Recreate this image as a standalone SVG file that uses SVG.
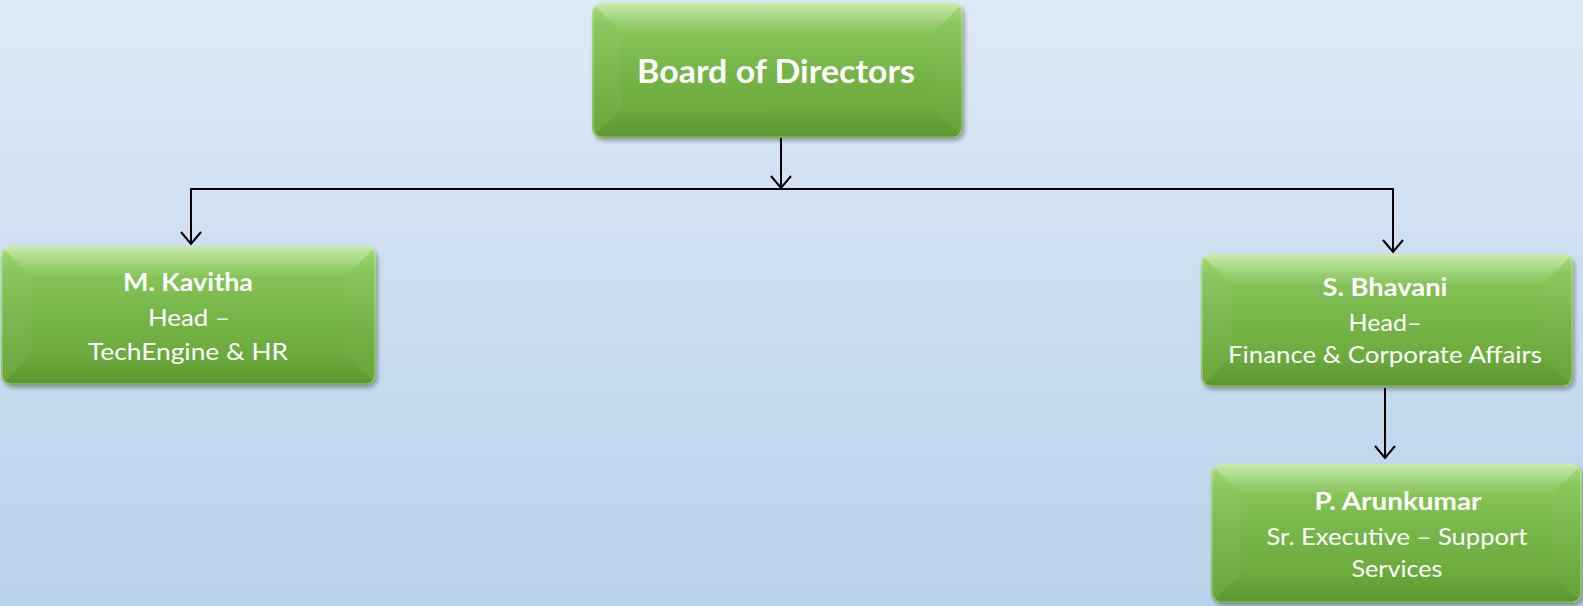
<svg xmlns="http://www.w3.org/2000/svg" width="1583" height="606" viewBox="0 0 1583 606">
<defs>
<linearGradient id="bg" x1="0" y1="0" x2="0" y2="1">
<stop offset="0" stop-color="#dee9f6"/>
<stop offset="1" stop-color="#b9d2eb"/>
</linearGradient>
<linearGradient id="gfill" x1="0" y1="0" x2="0" y2="1">
<stop offset="0" stop-color="#a9de7c"/>
<stop offset="0.15" stop-color="#88c65a"/>
<stop offset="0.5" stop-color="#76b548"/>
<stop offset="1" stop-color="#64a234"/>
</linearGradient>
<linearGradient id="gtop" x1="0" y1="0" x2="0" y2="1">
<stop offset="0" stop-color="#ffffff" stop-opacity="0.35"/>
<stop offset="1" stop-color="#ffffff" stop-opacity="0.04"/>
</linearGradient>
<linearGradient id="gbot" x1="0" y1="0" x2="0" y2="1">
<stop offset="0" stop-color="#000000" stop-opacity="0.0"/>
<stop offset="1" stop-color="#000000" stop-opacity="0.08"/>
</linearGradient>
<filter id="sh" x="-5%" y="-5%" width="112%" height="118%">
<feDropShadow dx="2" dy="3" stdDeviation="2" flood-color="#000" flood-opacity="0.3"/>
</filter>
<marker id="arr" markerUnits="userSpaceOnUse" markerWidth="30" markerHeight="30" viewBox="-15 -15 30 30" refX="0" refY="0" orient="auto" overflow="visible">
<path d="M-12,-10 L0,0 L-12,10" fill="none" stroke="#000" stroke-width="2"/>
</marker>
<clipPath id="c1"><rect x="592" y="3" width="371" height="135" rx="10"/></clipPath>
<clipPath id="c2"><rect x="1" y="246" width="375" height="139" rx="10"/></clipPath>
<clipPath id="c3"><rect x="1201" y="254" width="372" height="133" rx="10"/></clipPath>
<clipPath id="c4"><rect x="1211" y="464" width="371" height="139" rx="10"/></clipPath>
</defs>
<style>
.box{fill:url(#gfill);filter:url(#sh)}
.bt{fill:url(#gtop)}
.bl{fill:#ffffff;opacity:0.04}
.br{fill:#ffffff;opacity:0.02}
.bb{fill:url(#gbot)}
.hl{fill:none;stroke:#d4f7b0;stroke-width:1.2;opacity:0.5}
.t{font-family:Lato,"Open Sans","Liberation Sans",sans-serif;fill:#ffffff;text-anchor:middle}
.b{font-weight:bold}
.s{font-size:24px}
.conn{fill:none;stroke:#000;stroke-width:2}
</style>
<rect x="0" y="0" width="1583" height="606" fill="url(#bg)"/>

<g id="connectors">
<line class="conn" x1="781" y1="138" x2="781" y2="188" marker-end="url(#arr)"/>
<polyline class="conn" points="191,244 191,189 1393,189 1393,252"/>
<line class="conn" x1="191" y1="189" x2="191" y2="244" marker-end="url(#arr)"/>
<line class="conn" x1="1393" y1="189" x2="1393" y2="252" marker-end="url(#arr)"/>
<line class="conn" x1="1385" y1="388" x2="1385" y2="458" marker-end="url(#arr)"/>
</g>

<g id="board">
<rect class="box" x="592" y="3" width="371" height="135" rx="10"/>
<g clip-path="url(#c1)">
<polygon class="bt" points="592,3 963,3 933,33 622,33"/>
<polygon class="bl" points="592,3 622,33 622,108 592,138"/>
<polygon class="br" points="963,3 933,33 933,108 963,138"/>
<polygon class="bb" points="592,138 622,108 933,108 963,138"/>
</g>
<rect class="hl" x="593" y="4" width="369" height="133" rx="9"/>
<text class="t b" x="776" y="83" font-size="33" textLength="278" lengthAdjust="spacingAndGlyphs">Board of Directors</text>
</g>

<g id="kavitha">
<rect class="box" x="1" y="246" width="375" height="139" rx="10"/>
<g clip-path="url(#c2)">
<polygon class="bt" points="1,246 376,246 346,276 31,276"/>
<polygon class="bl" points="1,246 31,276 31,355 1,385"/>
<polygon class="br" points="376,246 346,276 346,355 376,385"/>
<polygon class="bb" points="1,385 31,355 346,355 376,385"/>
</g>
<rect class="hl" x="2" y="247" width="373" height="137" rx="9"/>
<text class="t b s" x="188" y="291" textLength="130" lengthAdjust="spacingAndGlyphs">M. Kavitha</text>
<text class="t s" x="189" y="326" textLength="82" lengthAdjust="spacingAndGlyphs">Head –</text>
<text class="t s" x="188" y="360" textLength="200" lengthAdjust="spacingAndGlyphs">TechEngine &amp; HR</text>
</g>

<g id="bhavani">
<rect class="box" x="1201" y="254" width="372" height="133" rx="10"/>
<g clip-path="url(#c3)">
<polygon class="bt" points="1201,254 1573,254 1543,284 1231,284"/>
<polygon class="bl" points="1201,254 1231,284 1231,357 1201,387"/>
<polygon class="br" points="1573,254 1543,284 1543,357 1573,387"/>
<polygon class="bb" points="1201,387 1231,357 1543,357 1573,387"/>
</g>
<rect class="hl" x="1202" y="255" width="370" height="131" rx="9"/>
<text class="t b s" x="1385" y="296" textLength="125" lengthAdjust="spacingAndGlyphs">S. Bhavani</text>
<text class="t s" x="1385" y="331" textLength="73" lengthAdjust="spacingAndGlyphs">Head–</text>
<text class="t s" x="1385" y="363" textLength="314" lengthAdjust="spacingAndGlyphs">Finance &amp; Corporate Affairs</text>
</g>

<g id="arunkumar">
<rect class="box" x="1211" y="464" width="371" height="139" rx="10"/>
<g clip-path="url(#c4)">
<polygon class="bt" points="1211,464 1582,464 1552,494 1241,494"/>
<polygon class="bl" points="1211,464 1241,494 1241,573 1211,603"/>
<polygon class="br" points="1582,464 1552,494 1552,573 1582,603"/>
<polygon class="bb" points="1211,603 1241,573 1552,573 1582,603"/>
</g>
<rect class="hl" x="1212" y="465" width="369" height="137" rx="9"/>
<text class="t b s" x="1398" y="510" textLength="167" lengthAdjust="spacingAndGlyphs">P. Arunkumar</text>
<text class="t s" x="1397" y="545" textLength="261" lengthAdjust="spacingAndGlyphs">Sr. Executive – Support</text>
<text class="t s" x="1397" y="577" textLength="91" lengthAdjust="spacingAndGlyphs">Services</text>
</g>
</svg>
